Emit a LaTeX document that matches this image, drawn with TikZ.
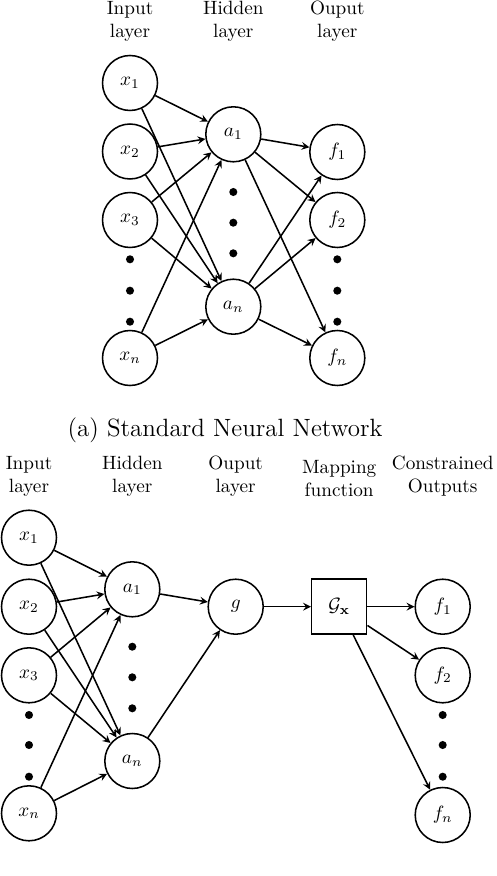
\documentclass[tikz,border=0pt]{standalone}
\usepackage{amsmath,amsfonts,amssymb}
\usepackage{tikz}
\newcommand{\neuron}[4]{\node[draw, thick, circle, minimum size=28.6pt, inner sep=0pt] (#1) at ( #2 , #3 ) {#4};}
\newcommand{\mapbox}[4]{\node[draw, thick, rectangle, minimum size=28.6pt, inner sep=0pt] (#1) at ( #2 , #3 ) {#4};}
\newcommand{\dotmark}[2]{\fill ( #1 , #2 ) circle (2.1pt);}
\newcommand{\link}[2]{\draw[thick, -stealth] (#1) -- (#2);}
\newcommand{\headnode}[4]{\node[align=center, inner sep=0pt] (#1) at ( #2 , #3 ) {#4};}

\begin{document}
\begin{tikzpicture}[x=0.52pt, y=-0.52pt]
        \useasboundingbox (0,0) rectangle (496,876);
        % headers (a)
        \headnode{hin}{130}{21.5}{Input\\layer}
        \headnode{hhid}{233.3}{21.5}{Hidden\\layer}
        \headnode{hout}{337.3}{21.5}{Ouput\\layer}
        % input layer (a)
        \neuron{x1}{130}{83}{$x_{1}$}
        \neuron{x2}{130}{151.5}{$x_{2}$}
        \neuron{x3}{130}{220}{$x_{3}$}
        \neuron{xn}{130}{358}{$x_{n}$}
        % hidden layer (a)
        \neuron{a1}{233.3}{134.3}{$a_{1}$}
        \neuron{an}{233.3}{306.7}{$a_{n}$}
        % output layer (a)
        \neuron{f1}{337.3}{152}{$f_{1}$}
        \neuron{f2}{337.3}{220}{$f_{2}$}
        \neuron{fn}{337.3}{358}{$f_{n}$}
        % dots (a)
        \dotmark{130}{259.3}
        \dotmark{130}{290.7}
        \dotmark{130}{321.7}
        \dotmark{233.3}{192}
        \dotmark{233.3}{222.7}
        \dotmark{233.3}{253.3}
        \dotmark{337.3}{259.3}
        \dotmark{337.3}{290.7}
        \dotmark{337.3}{321.7}
        % links input to hidden (a)
        \link{x1}{a1}
        \link{x1}{an}
        \link{x2}{a1}
        \link{x2}{an}
        \link{x3}{a1}
        \link{x3}{an}
        \link{xn}{a1}
        \link{xn}{an}
        % links hidden to output (a)
        \link{a1}{f1}
        \link{a1}{f2}
        \link{a1}{fn}
        \link{an}{f1}
        \link{an}{f2}
        \link{an}{fn}
        % caption (a)
        \node[anchor=base, inner sep=0pt, font=\fontsize{13}{15}\selectfont] (capa) at (225,436) {(a) Standard Neural Network};
        % headers (b)
        \headnode{bhin}{29}{476.5}{Input\\layer}
        \headnode{bhhid}{132.3}{476.5}{Hidden\\layer}
        \headnode{bhout}{235.7}{476.5}{Ouput\\layer}
        \headnode{bhmap}{339.2}{478.5}{Mapping\\function}
        \headnode{bhcon}{442.7}{476.5}{Constrained\\Outputs}
        % input layer (b)
        \neuron{bx1}{29}{537.7}{$x_{1}$}
        \neuron{bx2}{29}{606.7}{$x_{2}$}
        \neuron{bx3}{29}{675.3}{$x_{3}$}
        \neuron{bxn}{29}{813.3}{$x_{n}$}
        % hidden layer (b)
        \neuron{ba1}{132.3}{589.3}{$a_{1}$}
        \neuron{ban}{132.3}{761}{$a_{n}$}
        % output, mapping, constrained outputs (b)
        \neuron{bg}{235.7}{606.7}{$g$}
        \mapbox{bG}{339.2}{606.7}{$\mathcal{G}_{\mathbf{x}}$}
        \neuron{bf1}{442.7}{606.7}{$f_{1}$}
        \neuron{bf2}{442.7}{675.3}{$f_{2}$}
        \neuron{bfn}{442.7}{815}{$f_{n}$}
        % dots (b)
        \dotmark{29}{715}
        \dotmark{29}{745}
        \dotmark{29}{776.7}
        \dotmark{132.3}{646.7}
        \dotmark{132.3}{677.3}
        \dotmark{132.3}{708.3}
        \dotmark{442.7}{715}
        \dotmark{442.7}{745}
        \dotmark{442.7}{776.7}
        % links input to hidden (b)
        \link{bx1}{ba1}
        \link{bx1}{ban}
        \link{bx2}{ba1}
        \link{bx2}{ban}
        \link{bx3}{ba1}
        \link{bx3}{ban}
        \link{bxn}{ba1}
        \link{bxn}{ban}
        % links hidden to g, g to mapping, mapping to outputs (b)
        \link{ba1}{bg}
        \link{ban}{bg}
        \link{bg}{bG}
        \link{bG}{bf1}
        \link{bG}{bf2}
        \link{bG}{bfn}
    \end{tikzpicture}
\end{document}
